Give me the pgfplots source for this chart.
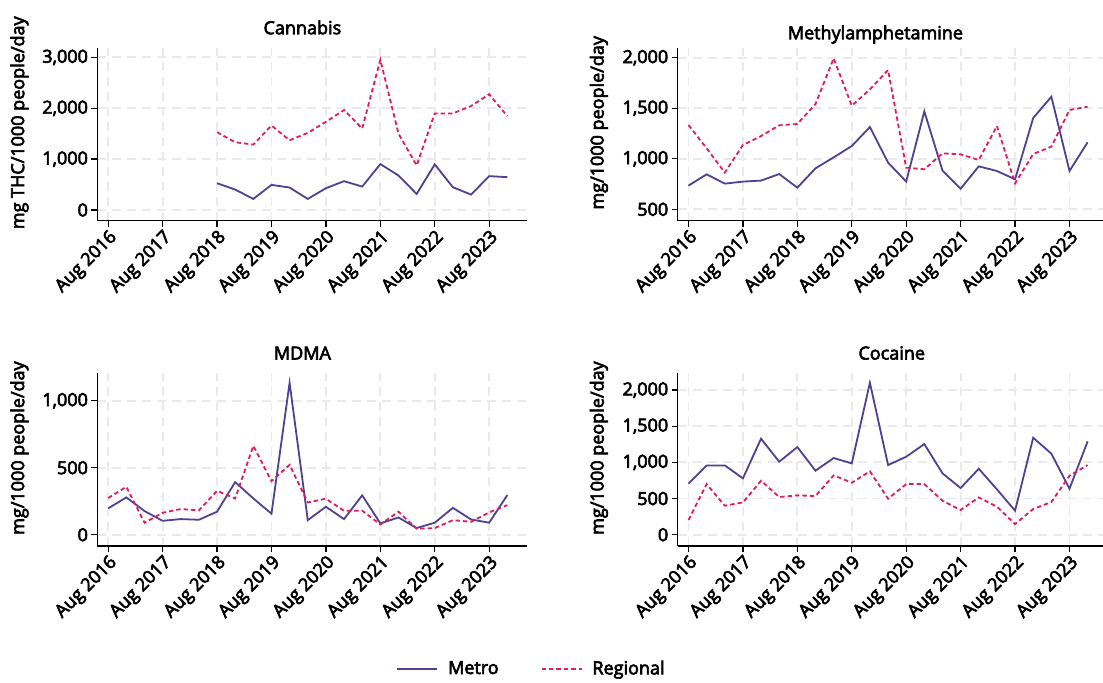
\documentclass[border=0pt]{standalone}
\usepackage{fontspec}
\setmainfont{Open Sans}[FakeBold=3.5]
\usepackage{pgfplots}
\pgfplotsset{compat=1.18}
\usepackage{pgfplotstable}

\definecolor{metro}{HTML}{4D4193}
\definecolor{regional}{HTML}{E31B5B}
\definecolor{gridc}{HTML}{EAEAEA}

\pgfplotstableread{
x      metro regional
2      527   1530
2.333  402   1332
2.667  218   1286
3      494   1661
3.333  442   1371
3.667  218   1516
4      429   1734
4.333  567   1965
4.667  461   1602
5      903   2954
5.333  679   1503
5.667  316   877
6      897   1899
6.333  448   1899
6.667  303   2044
7      666   2275
7.333  646   1846
}\cannabis

\pgfplotstableread{
x      metro regional
0      734   1334
0.333  846   1103
0.667  754   863
1      774   1136
1.333  784   1225
1.667  849   1331
2      714   1344
2.333  905   1542
2.667  1014  1994
3      1126  1525
3.333  1314  1687
3.667  962   1878
4      774   912
4.333  1469  896
4.667  882   1054
5      704   1044
5.333  925   988
5.667  879   1324
6      797   757
6.333  1403  1047
6.667  1614  1120
7      879   1483
7.333  1163  1515
}\meth

\pgfplotstableread{
x      metro regional
0      197   274
0.333  279   358
0.667  177   90
1      104   164
1.333  117   192
1.667  112   182
2      172   328
2.333  393   271
2.667  271   664
3      157   400
3.333  1134  522
3.667  109   241
4      209   269
4.333  117   179
4.667  294   179
5      85    77
5.333  129   172
5.667  50    45
6      90    50
6.333  201   109
6.667  114   97
7      90    167
7.333  296   221
}\mdma

\pgfplotstableread{
x      metro regional
0      705   203
0.333  958   700
0.667  958   401
1      779   447
1.333  1327  746
1.667  1009  521
2      1212  544
2.333  885   535
2.667  1060  820
3      986   719
3.333  2101  876
3.667  963   498
4      1078  700
4.333  1253  700
4.667  848   470
5      645   341
5.333  912   516
5.667  627   387
6      332   147
6.333  1341  355
6.667  1120  452
7      636   816
7.333  1290  963
}\cocaine

\pgfplotsset{
  panel/.style={
    scale only axis, width=215pt, height=86.5pt,
    xmin=-0.2, xmax=7.7,
    axis x line*=bottom, axis y line*=left,
    axis line style={line width=0.65pt, -},
    tick align=outside, major tick length=3pt,
    tick style={line width=0.65pt, black},
    xtick={0,1,2,3,4,5,6,7},
    xticklabels={Aug 2016, Aug 2017, Aug 2018, Aug 2019, Aug 2020, Aug 2021, Aug 2022, Aug 2023},
    xticklabel style={rotate=45, anchor=east, inner sep=1pt, xshift=0.5pt, yshift=-5pt},
    yticklabel style={inner sep=1.5pt},
    grid=major,
    major grid style={gridc, line width=0.9pt, dash pattern=on 4.5pt off 3pt},
    /pgf/number format/1000 sep={,},
    /pgf/number format/assume math mode=true,
    every tick label/.append style={font=\fontsize{9}{11}\selectfont},
    title style={font=\fontsize{9}{11}\selectfont, anchor=base, yshift=0.75pt},
    ylabel style={font=\fontsize{9}{11}\selectfont, anchor=center},
    legend style={font=\fontsize{9}{11}\selectfont},
  },
  metrostyle/.style={color=metro, line width=0.9pt, solid},
  regstyle/.style={color=regional, line width=0.9pt, dash pattern=on 2.2pt off 1.5pt},
}

\begin{document}
\begin{tikzpicture}
% Cannabis
\begin{axis}[panel, at={(48.65pt,-110.35pt)}, anchor=south west,
  ymin=-210, ymax=3190, ytick={0,1000,2000,3000},
  title={Cannabis}, title style={at={(0.477,1)}},
  ylabel={mg THC/1000 people/day}, ylabel style={at={(axis description cs:-0.181,0.566)}}]
\addplot[metrostyle] table[x=x,y=metro] {\cannabis};
\addplot[regstyle] table[x=x,y=regional] {\cannabis};
\end{axis}
% Methylamphetamine
\begin{axis}[panel, at={(338.8pt,-110.35pt)}, anchor=south west,
  ymin=387, ymax=2099, ytick={500,1000,1500,2000},
  title={Methylamphetamine}, title style={at={(0.46,1)}, yshift=-2.5pt},
  ylabel={mg/1000 people/day}, ylabel style={at={(axis description cs:-0.183,0.566)}}]
\addplot[metrostyle] table[x=x,y=metro] {\meth};
\addplot[regstyle] table[x=x,y=regional] {\meth};
\end{axis}
% MDMA
\begin{axis}[panel, at={(48.65pt,-273pt)}, anchor=south west,
  ymin=-84, ymax=1207, ytick={0,500,1000},
  title={MDMA}, title style={at={(0.477,1)}},
  ylabel={mg/1000 people/day}, ylabel style={at={(axis description cs:-0.181,0.566)}},
  legend columns=2,
  legend style={draw=none, fill=none, at={(1.012,-0.711)}, anchor=center,
    /tikz/every odd column/.append style={column sep=3pt},
    /tikz/every even column/.append style={column sep=19pt}},
  legend image code/.code={\draw[#1] (0pt,0pt) -- (20pt,0pt);}]
\addplot[metrostyle] table[x=x,y=metro] {\mdma};
\addlegendentry{Metro}
\addplot[regstyle] table[x=x,y=regional] {\mdma};
\addlegendentry{Regional}
\end{axis}
% Cocaine
\begin{axis}[panel, at={(338.8pt,-273pt)}, anchor=south west,
  ymin=-156, ymax=2235, ytick={0,500,1000,1500,2000},
  title={Cocaine}, title style={at={(0.498,1)}},
  ylabel={mg/1000 people/day}, ylabel style={at={(axis description cs:-0.183,0.566)}}]
\addplot[metrostyle] table[x=x,y=metro] {\cocaine};
\addplot[regstyle] table[x=x,y=regional] {\cocaine};
\end{axis}
\pgfresetboundingbox
\path[use as bounding box] (0pt,0pt) rectangle (551.5pt,-341pt);
\end{tikzpicture}
\end{document}
